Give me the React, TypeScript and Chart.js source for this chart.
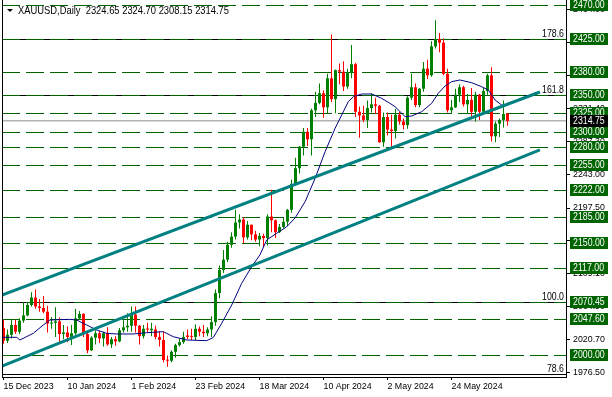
import React, { useEffect, useRef } from "react";
import { Chart, registerables } from "chart.js";

Chart.register(...registerables);

// ---------- data ----------
const titleSymbol = "XAUUSD,Daily";
const titleOHLC = ["2324.65", "2324.70", "2308.15", "2314.75"];

const xTickIndex = [0, 16, 32, 48, 64, 80, 96, 112];
const xTickLabels = [
  "15 Dec 2023",
  "10 Jan 2024",
  "1 Feb 2024",
  "23 Feb 2024",
  "18 Mar 2024",
  "10 Apr 2024",
  "2 May 2024",
  "24 May 2024",
];

const opens = [
  2036, 2019, 2027, 2040, 2031, 2046, 2053, 2067, 2077, 2065,
  2063, 2058, 2042, 2043, 2045, 2028, 2030, 2024, 2029, 2049,
  2055, 2028, 2006, 2023, 2029, 2022, 2029, 2014, 2021, 2018,
  2033, 2037, 2039, 2054, 2039, 2025, 2035, 2033, 2034, 2024,
  2020, 1993, 1992, 2004, 2013, 2017, 2026, 2025, 2024, 2035,
  2031, 2029, 2034, 2044, 2083, 2114, 2128, 2148, 2159, 2178,
  2182, 2158, 2175, 2162, 2155, 2160, 2157, 2186, 2181, 2165,
  2172, 2179, 2195, 2230, 2251, 2280, 2300, 2290, 2329, 2339,
  2352, 2333, 2372, 2344, 2383, 2381, 2361, 2379, 2391, 2327,
  2322, 2316, 2332, 2337, 2335, 2286, 2320, 2303, 2301, 2323,
  2314, 2309, 2346, 2360, 2336, 2358, 2385, 2376, 2415, 2425,
  2420, 2378, 2329, 2333, 2350, 2360, 2337, 2343, 2327, 2350,
  2327, 2355, 2376, 2294, 2311, 2316, 2324.65,
];
const highs = [
  2047, 2034, 2047, 2047, 2049, 2071, 2070, 2084, 2088, 2075,
  2079, 2066, 2051, 2064, 2050, 2040, 2038, 2040, 2062, 2059,
  2056, 2031, 2025, 2033, 2032, 2031, 2037, 2024, 2025, 2036,
  2048, 2056, 2065, 2065, 2040, 2040, 2043, 2043, 2039, 2032,
  2031, 1999, 2006, 2015, 2022, 2031, 2034, 2035, 2041, 2038,
  2040, 2037, 2052, 2088, 2120, 2141, 2152, 2165, 2195, 2189,
  2185, 2180, 2175, 2167, 2164, 2163, 2189, 2222, 2182, 2176,
  2184, 2196, 2236, 2265, 2281, 2305, 2305, 2331, 2354, 2365,
  2356, 2378, 2431, 2384, 2392, 2395, 2385, 2417, 2393, 2334,
  2335, 2342, 2352, 2346, 2336, 2326, 2326, 2323, 2331, 2327,
  2318, 2348, 2378, 2365, 2359, 2394, 2397, 2422, 2450, 2433,
  2426, 2385, 2343, 2358, 2364, 2362, 2351, 2359, 2354, 2351,
  2359, 2378, 2387, 2314, 2318, 2342, 2324.7,
];
const lows = [
  2015, 2016, 2022, 2028, 2028, 2043, 2052, 2065, 2062, 2058,
  2056, 2030, 2035, 2024, 2016, 2021, 2017, 2013, 2027, 2047,
  2024, 2002, 2005, 2014, 2016, 2011, 2012, 2009, 2012, 2017,
  2030, 2031, 2031, 2030, 2014, 2022, 2030, 2025, 2021, 2011,
  1990, 1984, 1990, 1996, 2011, 2015, 2021, 2020, 2020, 2025,
  2024, 2025, 2024, 2039, 2076, 2110, 2125, 2144, 2155, 2170,
  2150, 2155, 2154, 2152, 2146, 2145, 2147, 2165, 2157, 2164,
  2170, 2173, 2191, 2228, 2244, 2268, 2281, 2268, 2320, 2337,
  2319, 2325, 2340, 2325, 2364, 2355, 2358, 2372, 2320, 2292,
  2313, 2305, 2326, 2324, 2285, 2280, 2295, 2277, 2291, 2310,
  2303, 2304, 2343, 2333, 2333, 2354, 2371, 2374, 2412, 2407,
  2376, 2326, 2325, 2332, 2340, 2334, 2324, 2320, 2314, 2316,
  2323, 2350, 2287, 2286, 2293, 2306, 2308.15,
];
const closes = [
  2019, 2027, 2040, 2031, 2046, 2053, 2067, 2077, 2065, 2063,
  2058, 2042, 2043, 2045, 2028, 2030, 2024, 2029, 2049, 2055,
  2028, 2006, 2023, 2029, 2022, 2029, 2014, 2021, 2018, 2033,
  2037, 2039, 2054, 2039, 2025, 2035, 2034, 2035, 2024, 2020,
  1993, 1992, 2004, 2013, 2017, 2024, 2024, 2024, 2035, 2031,
  2029, 2034, 2044, 2083, 2114, 2128, 2148, 2159, 2178, 2182,
  2158, 2175, 2162, 2155, 2160, 2157, 2186, 2181, 2165, 2172,
  2179, 2195, 2230, 2251, 2280, 2300, 2290, 2329, 2339, 2352,
  2333, 2372, 2344, 2383, 2381, 2361, 2379, 2391, 2327, 2322,
  2316, 2332, 2337, 2335, 2286, 2320, 2303, 2301, 2323, 2314,
  2309, 2346, 2360, 2336, 2358, 2385, 2376, 2415, 2425, 2420,
  2378, 2329, 2333, 2350, 2360, 2337, 2343, 2327, 2350, 2327,
  2355, 2376, 2294, 2311, 2316, 2324, 2314.75,
];

// moving average (bar index, price)
const maIndex = [
  -0.9, 3.3, 4.1, 7.45, 9.95, 11.6, 16.6, 18.3, 20.8, 23.3,
  25.8, 28.3, 32.45, 35.8, 39.95, 42.45, 45.8, 50.8, 52.45, 54.55,
  57.05, 59.55, 62.05, 64.1, 65.8, 68.3, 70.8, 72.9, 75.4, 77.9,
  80.4, 82.9, 84.55, 86.2, 87.45, 89.55, 92.05, 94.55, 96.6, 97.9,
  100.4, 102.05, 104.55, 107.05, 108.7, 110.4, 112.05, 114.1, 117.05, 119.55,
  121.2, 122.9, 124.55, 125.8,
];
const maValues = [
  2023.5, 2023.5, 2019.9, 2028.9, 2040.1, 2046.8, 2047.7, 2046.8, 2040.1, 2033.3,
  2028.9, 2028.0, 2028.0, 2029.7, 2031.1, 2024.3, 2019.9, 2019.0, 2023.2, 2042.4,
  2067.0, 2096.2, 2118.5, 2134.3, 2154.5, 2163.5, 2172.3, 2184.1, 2206.0, 2237.5,
  2273.3, 2304.8, 2322.7, 2340.6, 2347.3, 2350.9, 2350.9, 2345.1, 2338.4, 2333.8,
  2320.4, 2321.3, 2327.1, 2338.4, 2351.9, 2361.7, 2367.5, 2369.8, 2366.1, 2360.7,
  2356.3, 2342.8, 2336.1, 2335.2,
];

// channel (trend) lines: two end points each
const upperTrendIndex = [-0.375, 134.1];
const upperTrendValues = [2080.2, 2353.6];
const lowerTrendIndex = [-0.375, 134.1];
const lowerTrendValues = [1984.6, 2275.6];

const levelValues = [2470, 2425, 2380, 2350, 2325, 2300, 2280, 2255, 2222, 2185, 2150, 2117, 2070.45, 2047.6, 2000];
const fibValues = [2425, 2350, 2070.45, 1973.5];
const fibLabels = ["178.6", "161.8", "100.0", "78.6"];
const yTickValues = [1976.5, 2020.7, 2064.9, 2109.1, 2153.3, 2197.5, 2243.0, 2287.3, 2331.4, 2375.6, 2419.8, 2464.0];
const currentPrice = 2314.75;

// ---------- style ----------
const X_MIN = -0.375;
const X_MAX = 140.625;
const Y_MIN = 1970.1;
const Y_MAX = 2477.4;
const FONT = "'Liberation Sans Narrow', 'Liberation Sans', Arial, sans-serif";
const LABEL_SIZE = 10.2;
const GREEN = "#008000";
const RED = "#ff0000";
const DARK_GREEN = "#006400";
const TEAL = "#008080";
const NAVY = "#000080";
const GRAY = "#8c8c8c";

function measure(text: string, size: number): number {
  const c = document.createElement("canvas").getContext("2d");
  if (!c) return text.length * size * 0.5;
  c.font = `${size}px ${FONT}`;
  return c.measureText(text).width;
}

// font size chosen so that a sample text has the width seen in the reference
function fitSize(text: string, width: number): number {
  const s = (100 * width) / measure(text, 100);
  return Math.min(11, Math.max(8, s));
}

function drawText(ctx: any, text: string, x: number, y: number, sx: number, align: string, baseline: string) {
  ctx.save();
  ctx.font = `${LABEL_SIZE}px ${FONT}`;
  ctx.translate(x, y);
  ctx.scale(sx, 1);
  ctx.textAlign = align;
  ctx.textBaseline = baseline;
  ctx.fillText(text, 0, 0);
  ctx.restore();
}

function makeOverlay(sxNum: number, sxTitle: number) {
  return {
    id: "overlay",
    beforeDatasetsDraw(chart: any) {
      const { ctx, chartArea: a, scales } = chart;
      const y = scales.y;
      ctx.save();
      ctx.beginPath();
      ctx.rect(a.left, a.top, a.right - a.left, a.bottom - a.top);
      ctx.clip();
      ctx.lineWidth = 1;
      ctx.strokeStyle = "#000";
      for (const v of fibValues) {
        const py = Math.round(y.getPixelForValue(v)) + 0.5;
        ctx.beginPath();
        ctx.moveTo(a.left, py);
        ctx.lineTo(a.right, py);
        ctx.stroke();
      }
      ctx.strokeStyle = DARK_GREEN;
      ctx.setLineDash([18, 6]);
      for (const v of levelValues) {
        const py = Math.round(y.getPixelForValue(v)) + 0.5;
        ctx.beginPath();
        ctx.moveTo(a.left, py);
        ctx.lineTo(a.right, py);
        ctx.stroke();
      }
      ctx.restore();
    },
    afterDraw(chart: any) {
      const { ctx, chartArea: a, scales } = chart;
      const y = scales.y;
      ctx.save();
      ctx.strokeStyle = "#000";
      ctx.lineWidth = 1;
      ctx.beginPath();
      ctx.moveTo(a.left + 0.5, 0);
      ctx.lineTo(a.left + 0.5, a.bottom);
      ctx.stroke();

      ctx.fillStyle = "#000";
      fibValues.forEach((v, k) => {
        const py = Math.round(y.getPixelForValue(v));
        drawText(ctx, fibLabels[k], a.right - 2, py - 2, sxNum, "right", "alphabetic");
      });
      const bx = a.right + 4;
      levelValues.forEach((v) => {
        const py = Math.round(y.getPixelForValue(v));
        ctx.fillStyle = DARK_GREEN;
        ctx.fillRect(bx, py - 6, 38, 12);
        ctx.fillStyle = "#fff";
        drawText(ctx, v.toFixed(2), bx + 3, py + 0.5, sxNum, "left", "middle");
      });
      {
        const py = Math.round(y.getPixelForValue(currentPrice));
        ctx.fillStyle = "#000";
        ctx.fillRect(bx, py - 6, 38, 12);
        ctx.fillStyle = "#fff";
        drawText(ctx, currentPrice.toFixed(2), bx + 3, py + 0.5, sxNum, "left", "middle");
      }
      ctx.fillStyle = "#000";
      ctx.beginPath();
      ctx.moveTo(7, 9);
      ctx.lineTo(13, 9);
      ctx.lineTo(10, 12);
      ctx.closePath();
      ctx.fill();
      drawText(ctx, `${titleSymbol}  ${titleOHLC.join(" ")}`, 18, 11, sxTitle, "left", "middle");
      ctx.restore();
    },
  };
}

export default function App() {
  const ref = useRef<HTMLCanvasElement | null>(null);
  useEffect(() => {
    const canvas = ref.current;
    if (!canvas) return;
    const fs = (fitSize("2470.00", 31.7) + fitSize("15 Dec 2023", 50.5)) / 2;
    const sxNum = Math.min(1, 31.7 / measure("2470.00", LABEL_SIZE));
    const sxTitle = Math.min(1, 211 / measure(`${titleSymbol}  ${titleOHLC.join(" ")}`, LABEL_SIZE));

    const colors = closes.map((c, i) => (c >= opens[i] ? GREEN : RED));
    const wickData = highs.map((h, i) => ({ x: i, y: [lows[i], h] }));
    const bodyData = opens.map((o, i) => ({ x: i, y: [Math.min(o, closes[i]), Math.max(o, closes[i])] }));
    const maData = maIndex.map((x, k) => ({ x, y: maValues[k] }));
    const upper = upperTrendIndex.map((x, k) => ({ x, y: upperTrendValues[k] }));
    const lower = lowerTrendIndex.map((x, k) => ({ x, y: lowerTrendValues[k] }));
    const priceLine = [
      { x: X_MIN, y: currentPrice },
      { x: X_MAX, y: currentPrice },
    ];

    const chart = new Chart(canvas, {
      type: "bar",
      data: {
        datasets: [
          { type: "line", data: upper, borderColor: TEAL, borderWidth: 3, pointRadius: 0, order: 0 } as any,
          { type: "line", data: lower, borderColor: TEAL, borderWidth: 3, pointRadius: 0, order: 0 } as any,
          { type: "line", data: maData, borderColor: NAVY, borderWidth: 1, pointRadius: 0, order: 1 } as any,
          { type: "bar", data: bodyData, backgroundColor: colors, barThickness: 3, minBarLength: 1, order: 2 } as any,
          { type: "bar", data: wickData, backgroundColor: colors, barThickness: 1, order: 3 } as any,
          { type: "line", data: priceLine, borderColor: GRAY, borderWidth: 1, pointRadius: 0, order: 4 } as any,
        ],
      },
      options: {
        animation: false,
        responsive: false,
        devicePixelRatio: 1,
        layout: { padding: { left: 2, top: 0, right: 0, bottom: 0 } },
        plugins: { legend: { display: false }, tooltip: { enabled: false } },
        datasets: { bar: { grouped: false, inflateAmount: 0, borderWidth: 0 } as any },
        scales: {
          x: {
            type: "linear",
            min: X_MIN,
            max: X_MAX,
            offset: false,
            grid: { drawOnChartArea: false, drawTicks: true, tickLength: 3, color: "#000", offset: false },
            border: { display: true, color: "#000", width: 1 },
            ticks: {
              autoSkip: false,
              maxRotation: 0,
              minRotation: 0,
              align: "start",
              padding: 1,
              color: "#000",
              font: { family: FONT, size: fs },
              callback: (v: any) => {
                const k = xTickIndex.indexOf(Number(v));
                return k >= 0 ? xTickLabels[k] : "";
              },
            },
            afterBuildTicks: (s: any) => {
              s.ticks = xTickIndex.map((v) => ({ value: v }));
            },
            afterFit: (s: any) => {
              s.height = 20;
              s.paddingLeft = 0;
              s.paddingRight = 0;
            },
          } as any,
          y: {
            type: "linear",
            position: "right",
            min: Y_MIN,
            max: Y_MAX,
            grid: { drawOnChartArea: false, drawTicks: true, tickLength: 4, color: "#000" },
            border: { display: true, color: "#000", width: 1 },
            ticks: {
              padding: 3,
              color: "#000",
              font: { family: FONT, size: fs },
              callback: (v: any) => Number(v).toFixed(2),
            },
            afterBuildTicks: (s: any) => {
              s.ticks = yTickValues.map((v) => ({ value: v }));
            },
            afterFit: (s: any) => {
              s.width = 46;
              s.paddingTop = 0;
              s.paddingBottom = 0;
            },
          } as any,
        },
      },
      plugins: [makeOverlay(sxNum, sxTitle)],
    });
    return () => chart.destroy();
  }, []);

  return (
    <div style={{ position: "absolute", left: 0, top: 0, width: 612, height: 397, background: "#fff" }}>
      <canvas ref={ref} width={612} height={397} style={{ display: "block", width: 612, height: 397 }} />
    </div>
  );
}
